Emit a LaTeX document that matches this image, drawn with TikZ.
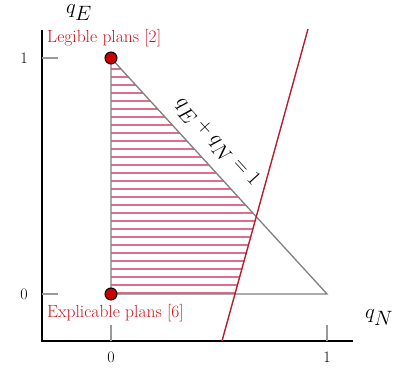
\documentclass[tikz,border=0pt]{standalone}
\usepackage{amsmath}
\definecolor{myhatch}{RGB}{222,110,140}
\definecolor{linered}{RGB}{180,30,45}
\definecolor{labelred}{RGB}{204,20,30}
\definecolor{dotred}{RGB}{200,0,0}
\tikzset{
  axisline/.style={black, line width=1.6pt},
  tickline/.style={gray!80, line width=1.2pt},
  triline/.style={gray, line width=1.3pt},
  hatchline/.style={draw=myhatch, line width=1.1pt},
  redline/.style={linered, line width=1.4pt},
  plandot/.style={circle, fill=dotred, draw=black, line width=1pt, minimum size=12pt, inner sep=0pt},
  planlabel/.style={text=labelred, font=\fontsize{17.5}{21}\selectfont, anchor=west, inner sep=0pt},
  ticklabel/.style={font=\fontsize{16}{19}\selectfont, inner sep=0pt},
  axislabel/.style={font=\fontsize{21}{25}\selectfont, inner sep=0pt}
}
\begin{document}
\begin{tikzpicture}[x=1pt, y=-1pt]
\useasboundingbox (0,0) rectangle (404,372);
% named points
\coordinate (O) at (111,294);
\coordinate (A) at (327,294);
\coordinate (B) at (111,58);
\coordinate (R1) at (222,341);
\coordinate (R2) at (308,29);
% hatch
\begin{scope}
  \clip (O) -- (A) -- (B) -- cycle;
  \clip (0,341) -- (R1) -- (R2) -- (0,29) -- cycle;
  \foreach \k in {0,...,28} {
    \draw[hatchline] (111,293-8*\k) -- (330,293-8*\k);
  }
\end{scope}
% triangle
\draw[triline] (O) -- (A) -- (B) -- cycle;
% axes
\coordinate (Atop) at (42,30);
\coordinate (Acorner) at (42,341);
\coordinate (Aright) at (353,341);
\draw[axisline] (Atop) -- (Acorner) -- (Aright);
% ticks
\draw[tickline] (42,58) -- (58,58);
\draw[tickline] (42,294) -- (58,294);
\draw[tickline] (111,341) -- (111,325);
\draw[tickline] (327,341) -- (327,325);
\node[ticklabel] (ty1) at (24,58) {1};
\node[ticklabel] (ty0) at (24,294) {0};
\node[ticklabel] (tx0) at (111,357) {0};
\node[ticklabel] (tx1) at (327,357) {1};
% axis labels
\node[axislabel, anchor=base west] (qE) at (66,13) {$q_{\textstyle E}$};
\node[axislabel, anchor=base west] (qN) at (365,318) {$q_{\textstyle N}$};
% red line
\draw[redline] (R1) -- (R2);
% diagonal label
\node[axislabel, font=\fontsize{21.5}{25}\selectfont, rotate=-47.5] (eq) at (216.5,142.5) {$q_{\textstyle E} + q_{\textstyle N} = 1$};
% dots
\node[plandot] (leg) at (B) {};
\node[plandot] (exp) at (O) {};
\node[planlabel] (legl) at (47,38) {Legible plans [2]};
\node[planlabel] (expl) at (47,313) {Explicable plans [6]};
\end{tikzpicture}
\end{document}
